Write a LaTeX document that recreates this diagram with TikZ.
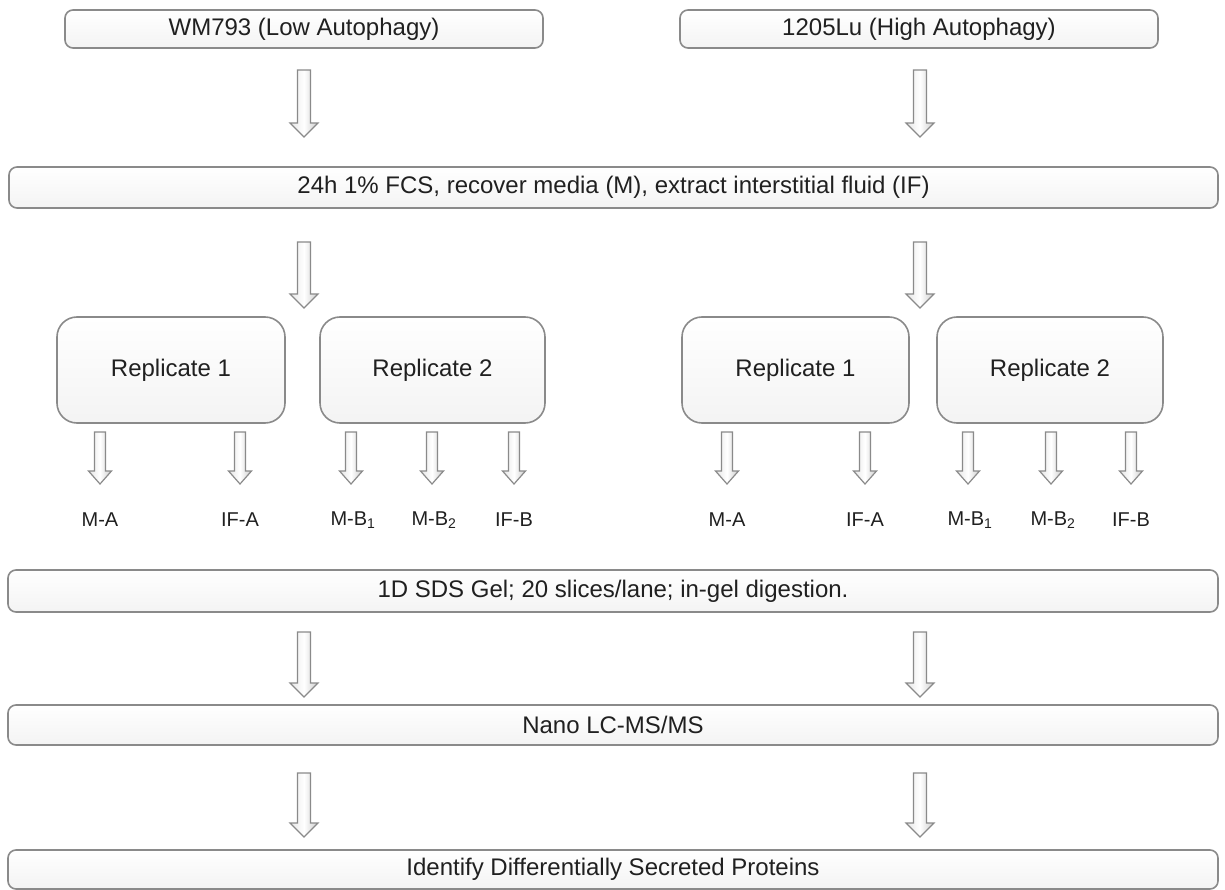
\documentclass[tikz,border=0pt]{standalone}
\usepackage{fontspec}
\setmainfont{Liberation Sans}
\usetikzlibrary{calc}
\definecolor{edge}{HTML}{8A8A8A}
\definecolor{txt}{HTML}{202020}
\tikzset{
  box/.style={draw=edge, line width=1.6pt, rounded corners=8pt, top color=white, bottom color=gray!9,
    text=txt, font=\fontsize{24}{28}\selectfont, inner sep=0pt},
  repbox/.style={box, rounded corners=20pt},
  lab/.style={text=txt, font=\fontsize{20}{24}\selectfont, inner sep=0pt},
  arr/.style={draw=edge, line width=1.2pt, line join=miter, left color=gray!20, right color=gray!40, middle color=white}
}
% block arrow from #1 to #2: half shaft #3, half head #4, head length #5
\newcommand\barrow[5]{%
  \path[arr] let \p1=(#1), \p2=(#2) in
    (\x1-#3,\y1) -- (\x1+#3,\y1) -- (\x2+#3,\y2+#5) -- (\x2+#4,\y2+#5) -- (\x2,\y2)
    -- (\x2-#4,\y2+#5) -- (\x2-#3,\y2+#5) -- cycle;}
\newcommand\bigarrow[2]{\barrow{#1}{#2}{6.5pt}{14pt}{14pt}}
\newcommand\smallarrow[2]{\barrow{#1}{#2}{5.5pt}{11.5pt}{13pt}}
\begin{document}
\begin{tikzpicture}[x=1pt,y=-1pt]
\useasboundingbox (0,0) rectangle (1225,890);
% boxes
\node[box, minimum width=478pt, minimum height=38pt] (topL) at (304,29) {WM793 (Low Autophagy)};
\node[box, minimum width=478pt, minimum height=38pt] (topR) at (919,29) {1205Lu (High Autophagy)};
\node[box, minimum width=1209pt, minimum height=41pt] (fcs) at (613.5,187.5) {24h 1\% FCS, recover media (M), extract interstitial fluid (IF)};
\node[repbox, minimum width=228pt, minimum height=106pt] (repL1) at (171,370) {Replicate 1};
\node[repbox, minimum width=225pt, minimum height=106pt] (repL2) at (432.5,370) {Replicate 2};
\node[repbox, minimum width=227pt, minimum height=106pt] (repR1) at (795.5,370) {Replicate 1};
\node[repbox, minimum width=226pt, minimum height=106pt] (repR2) at (1050,370) {Replicate 2};
\node[box, minimum width=1210pt, minimum height=42pt] (sds) at (613,591) {1D SDS Gel; 20 slices/lane; in-gel digestion.};
\node[box, minimum width=1210pt, minimum height=40pt] (nano) at (613,725) {Nano LC-MS/MS};
\node[box, minimum width=1210pt, minimum height=39pt] (ident) at (613,869.5) {Identify Differentially Secreted Proteins};
% labels
\node[lab] (lMA) at (100,520) {M-A};
\node[lab] (lIFA) at (240,520) {IF-A};
\node[lab] (lMB1) at (353,520) {M-B\textsubscript{1}};
\node[lab] (lMB2) at (434,520) {M-B\textsubscript{2}};
\node[lab] (lIFB) at (514,520) {IF-B};
\node[lab] (rMA) at (727,520) {M-A};
\node[lab] (rIFA) at (865,520) {IF-A};
\node[lab] (rMB1) at (970,520) {M-B\textsubscript{1}};
\node[lab] (rMB2) at (1053,520) {M-B\textsubscript{2}};
\node[lab] (rIFB) at (1131,520) {IF-B};
% arrow end points
\coordinate (a1Ls) at (304,70);  \coordinate (a1Le) at (304,137);
\coordinate (a2Ls) at (304,242); \coordinate (a2Le) at (304,308);
\coordinate (a3Ls) at (304,632); \coordinate (a3Le) at (304,697);
\coordinate (a4Ls) at (304,773); \coordinate (a4Le) at (304,837);
\coordinate (a1Rs) at (920,70);  \coordinate (a1Re) at (920,137);
\coordinate (a2Rs) at (920,242); \coordinate (a2Re) at (920,308);
\coordinate (a3Rs) at (920,632); \coordinate (a3Re) at (920,697);
\coordinate (a4Rs) at (920,773); \coordinate (a4Re) at (920,837);
\bigarrow{a1Ls}{a1Le} \bigarrow{a2Ls}{a2Le} \bigarrow{a3Ls}{a3Le} \bigarrow{a4Ls}{a4Le}
\bigarrow{a1Rs}{a1Re} \bigarrow{a2Rs}{a2Re} \bigarrow{a3Rs}{a3Re} \bigarrow{a4Rs}{a4Re}
% small arrows under replicates
\coordinate (sa1s) at (100,432);  \coordinate (sa1e) at (100,484);
\coordinate (sa2s) at (240,432);  \coordinate (sa2e) at (240,484);
\coordinate (sa3s) at (351,432);  \coordinate (sa3e) at (351,484);
\coordinate (sa4s) at (432,432);  \coordinate (sa4e) at (432,484);
\coordinate (sa5s) at (514,432);  \coordinate (sa5e) at (514,484);
\coordinate (sa6s) at (727,432);  \coordinate (sa6e) at (727,484);
\coordinate (sa7s) at (865,432);  \coordinate (sa7e) at (865,484);
\coordinate (sa8s) at (968,432);  \coordinate (sa8e) at (968,484);
\coordinate (sa9s) at (1051,432); \coordinate (sa9e) at (1051,484);
\coordinate (sa10s) at (1131,432); \coordinate (sa10e) at (1131,484);
\smallarrow{sa1s}{sa1e} \smallarrow{sa2s}{sa2e} \smallarrow{sa3s}{sa3e}
\smallarrow{sa4s}{sa4e} \smallarrow{sa5s}{sa5e} \smallarrow{sa6s}{sa6e}
\smallarrow{sa7s}{sa7e} \smallarrow{sa8s}{sa8e} \smallarrow{sa9s}{sa9e}
\smallarrow{sa10s}{sa10e}
\end{tikzpicture}
\end{document}
